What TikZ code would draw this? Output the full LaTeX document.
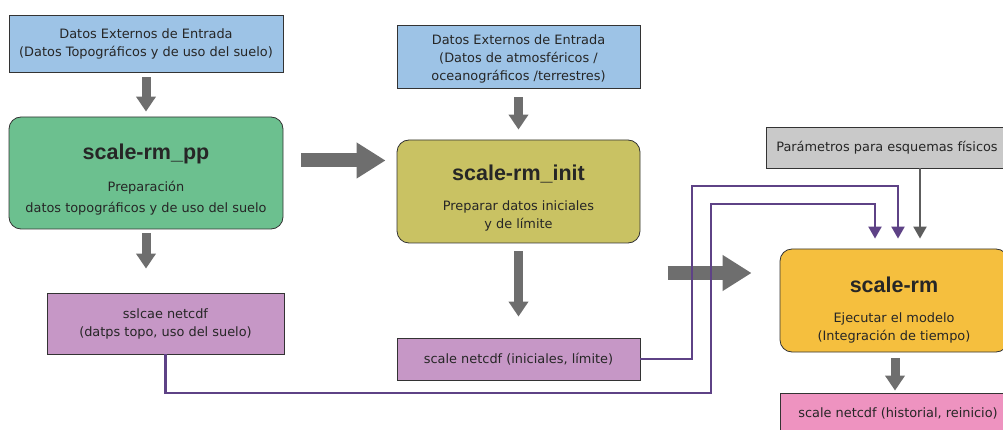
\documentclass[tikz,border=0pt]{standalone}
\usepackage{fontspec}
\setmainfont{DejaVu Sans}
\newfontfamily\titlefam{Liberation Sans}
\usepackage{tikz}
\usetikzlibrary{arrows.meta}
\definecolor{inblue}{HTML}{9DC3E6}
\definecolor{ppgreen}{HTML}{6CC08F}
\definecolor{initolive}{HTML}{C9C263}
\definecolor{ncpurple}{HTML}{C697C6}
\definecolor{pargray}{HTML}{C9C9C9}
\definecolor{rmorange}{HTML}{F5BF3E}
\definecolor{outpink}{HTML}{EE93C0}
\definecolor{arrowgray}{HTML}{6E6E6E}
\definecolor{linkpurple}{HTML}{5E4286}
\newcommand{\titlef}[2]{{\titlefam\fontsize{21.5}{25}\selectfont\bfseries\rule{0pt}{#1pt}#2}}
\tikzset{box/.style={draw=black!80, line width=0.8pt, align=center, inner sep=0pt, text=black!85, font=\fontsize{12.9}{18}\selectfont},
  inbox/.style={box, fill=inblue},
  prog/.style={box, rounded corners=12pt},
  ncbox/.style={box, fill=ncpurple},
  downarrow/.style={draw=arrowgray, line width=9pt, -{Triangle[length=15pt,width=19pt]}},
  bigarrow/.style={draw=arrowgray, line width=14pt, -{Triangle[length=29pt,width=34pt]}},
  plink/.style={draw=linkpurple, line width=2.2pt, -{Triangle[length=12pt,width=13pt]}},
  glink/.style={draw=arrowgray!85!black, line width=2.2pt, -{Triangle[length=12pt,width=13pt]}}}
\begin{document}
\begin{tikzpicture}[x=1pt, y=-1pt]
  \useasboundingbox (0,0) rectangle (1003,430);
  \node[inbox, minimum width=274, minimum height=57] (extA) at (146,43.5) {Datos Externos de Entrada\\(Datos Topográficos y de uso del suelo)};
  \node[prog, fill=ppgreen, minimum width=274, minimum height=112] (pp) at (146,173) {\titlef{28}{scale-rm\_pp}\\[14pt] Preparación\\[3pt] datos topográficos y de uso del suelo};
  \node[ncbox, minimum width=237, minimum height=61] (ncA) at (165.5,323.5) {sslcae netcdf\\(datps topo, uso del suelo)};
  \node[inbox, minimum width=243, minimum height=63] (extB) at (518.5,56.5) {\rule{0pt}{15pt}Datos Externos de Entrada\\(Datos de atmosféricos /\\oceanográficos /terrestres)};
  \node[prog, fill=initolive, minimum width=243, minimum height=103] (init) at (518.5,191.5) {\titlef{29}{scale-rm\_init}\\[12pt] Preparar datos iniciales\\ y de límite};
  \node[ncbox, minimum width=243, minimum height=42] (ncB) at (518.5,359) {scale netcdf (iniciales, límite)};
  \node[box, fill=pargray, minimum width=242, minimum height=41] (par) at (887,147.5) {Parámetros para esquemas físicos};
  \node[prog, fill=rmorange, minimum width=228, minimum height=103] (rm) at (894,300.5) {\titlef{35}{scale-rm}\\[12pt] Ejecutar el modelo\\ (Integración de tiempo)};
  \node[box, fill=outpink, minimum width=236, minimum height=40] (out) at (898,413) {scale netcdf (historial, reinicio)};

  \draw[downarrow] ([yshift=-5]extA.south) -- ([yshift=5]pp.north);
  \draw[downarrow] ([yshift=-4]pp.south) -- ([xshift=-19.5,yshift=24]ncA.north);
  \draw[downarrow] ([yshift=-9]extB.south) -- ([yshift=10]init.north);
  \draw[downarrow] ([yshift=-8]init.south) -- ([yshift=21]ncB.north);
  \draw[downarrow] ([xshift=1,yshift=-6]rm.south) -- ([xshift=-3,yshift=2]out.north);
  \draw[bigarrow] ([shift={(18,-12.5)}]pp.east) -- ([shift={(-11,-31)}]init.west);
  \draw[bigarrow] ([shift={(-112,-27.5)}]rm.west) -- ([shift={(-28,-27.5)}]rm.west);

  \draw[plink] (ncA.south) |- (711,393) |- (875,204) -- ([xshift=-19,yshift=10]rm.north);
  \draw[plink] (ncB.east) -| (692,186) -| ([xshift=4,yshift=10]rm.north);
  \draw[glink] ([xshift=33]par.south) -- ([xshift=26,yshift=10]rm.north);
\end{tikzpicture}
\end{document}
